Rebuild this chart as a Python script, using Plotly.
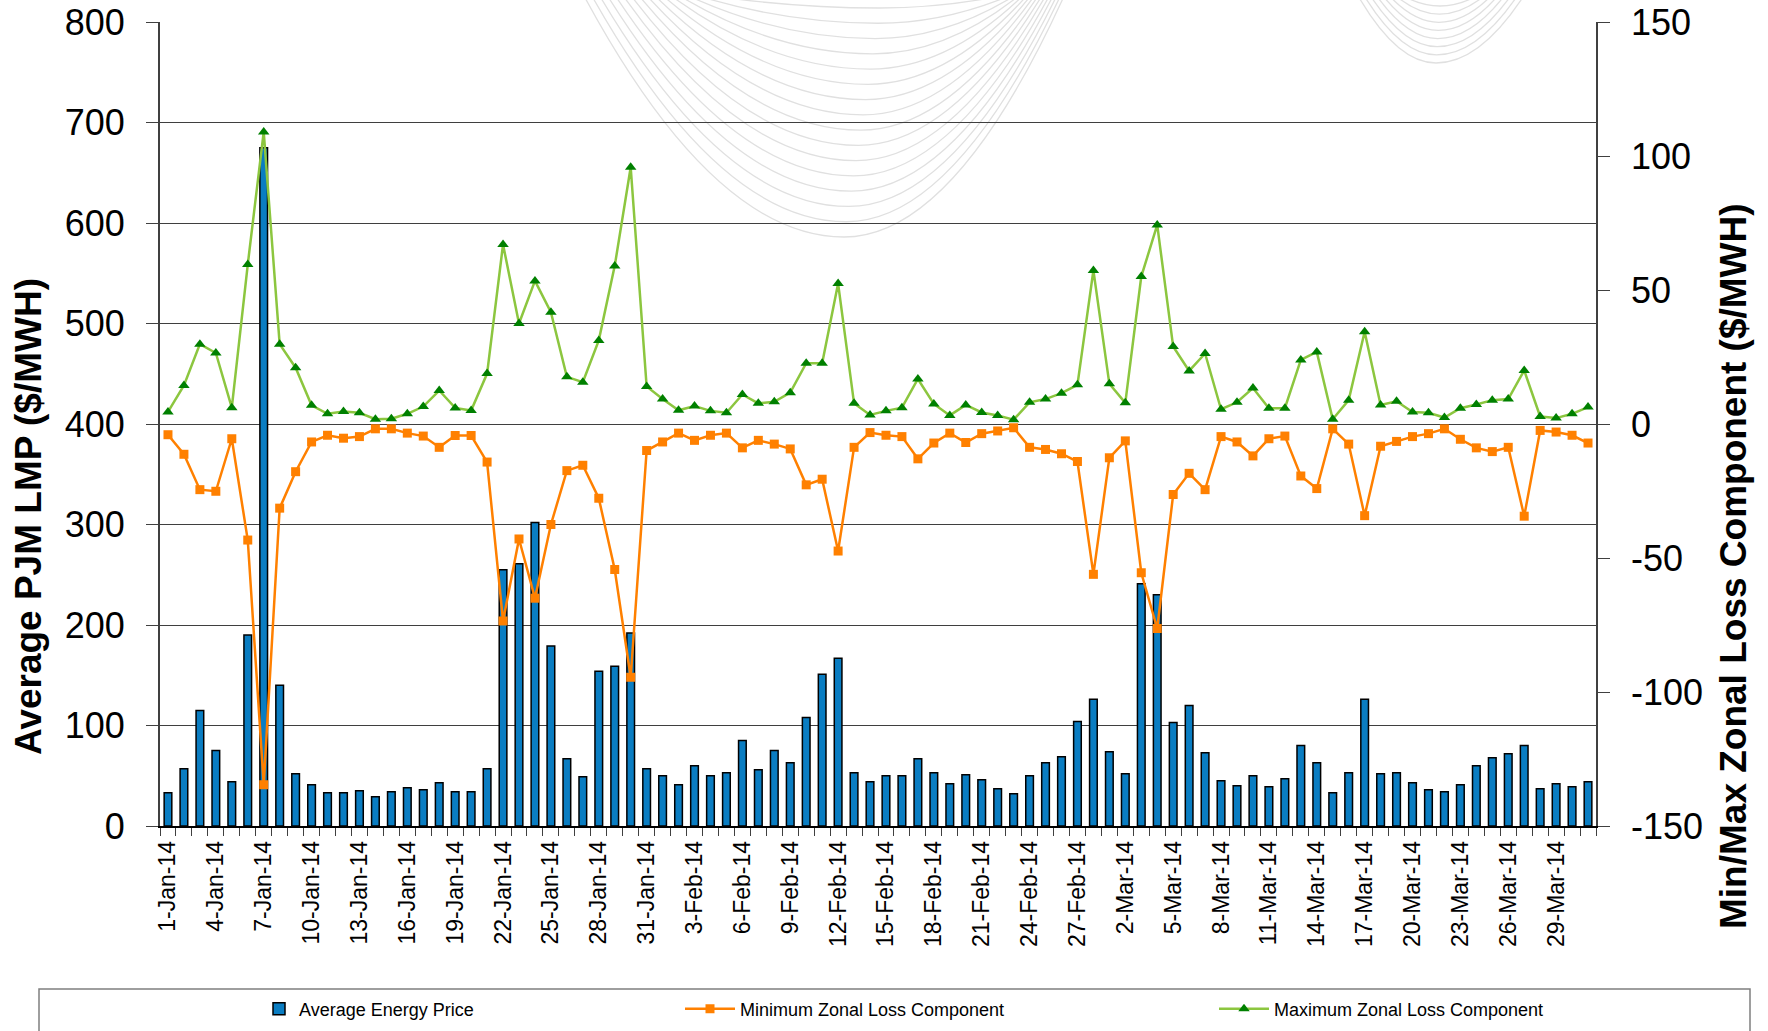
import pandas as pd
import plotly.graph_objects as go

# ---------------- data ----------------
dates = pd.date_range("2014-01-01", "2014-03-31", freq="D")

avg_price = [33, 57, 115, 75, 44, 190, 675, 140, 52, 41,
             33, 33, 35, 29, 34, 38, 36, 43, 34, 34,
             57, 255, 261, 302, 179, 67, 49, 154, 159, 192,
             57, 50, 41, 60, 50, 53, 85, 56, 75, 63,
             108, 151, 167, 53, 44, 50, 50, 67, 53, 42,
             51, 46, 37, 32, 50, 63, 69, 104, 126, 74,
             52, 241, 230, 103, 120, 73, 45, 40, 50, 39,
             47, 80, 63, 33, 53, 126, 52, 53, 43, 36,
             34, 41, 60, 68, 72, 80, 37, 42, 39, 44]

min_loss = [-4, -11.3, -24.5, -25.1, -5.5, -43.3, -134.6, -31.4, -17.8, -6.7,
            -4.2, -5.3, -4.7, -1.8, -1.8, -3.4, -4.5, -8.7, -4.3, -4.3,
            -14.2, -73.5, -42.9, -65, -37.5, -17.4, -15.4, -27.7, -54.3, -94.5,
            -9.9, -6.7, -3.4, -6.1, -4.2, -3.4, -8.9, -6.1, -7.5, -9.3,
            -22.7, -20.6, -47.4, -8.7, -3.2, -4.2, -4.7, -13, -7.1, -3.4,
            -6.9, -3.6, -2.6, -1.4, -8.7, -9.5, -11.1, -14, -56.1, -12.6,
            -6.3, -55.5, -76.3, -26.3, -18.4, -24.5, -4.7, -6.7, -11.9, -5.5,
            -4.5, -19.4, -24.1, -1.8, -7.5, -34.2, -8.3, -6.5, -4.7, -3.6,
            -1.8, -5.7, -8.9, -10.3, -8.7, -34.4, -2.4, -3, -4.2, -7.1]

max_loss = [4.5, 14.4, 29.8, 26.5, 6.1, 59.5, 109, 29.8, 21, 7,
            3.8, 4.7, 4.2, 1.8, 2, 3.8, 6.5, 12.5, 6, 5,
            18.8, 67, 37.5, 53.4, 41.7, 17.6, 15.6, 31.2, 59, 95.8,
            14, 9.3, 5.1, 6.7, 4.9, 4.2, 11, 7.7, 8.3, 11.7,
            22.7, 22.7, 52.4, 7.7, 3.4, 4.9, 6.1, 16.8, 7.5, 3.2,
            7.1, 4.3, 3.2, 1.6, 8.1, 9.3, 11.5, 14.6, 57.3, 15,
            7.9, 55, 74.3, 28.9, 19.8, 26.3, 5.5, 8.1, 13.4, 5.9,
            5.9, 23.9, 26.9, 1.8, 8.9, 34.4, 7.1, 8.5, 4.5, 4.2,
            2.4, 5.9, 7.3, 8.9, 9.3, 20, 2.8, 2.2, 3.8, 6.3]

right_tick_vals = [-150, -100, -50, 0, 50, 100, 150]
right_tick_text = ["-150", "-100", "-50", "0", "50", "100", "150"]

series_names = ["Average Energy Price", "Minimum Zonal Loss Component", "Maximum Zonal Loss Component"]
left_title = "Average PJM LMP ($/MWH)"
right_title = "Min/Max Zonal Loss Component ($/MWH)"

# ---------------- layout geometry (pixels) ----------------
W, H = 1768, 1031
L, R, T, B = 160, 1596, 22, 826
PW, PH = R - L, B - T


def px(x):
    return (x - L) / PW


def py(y):
    return (B - y) / PH


FONT = "Liberation Sans, Arial, sans-serif"

fig = go.Figure()
fig.add_trace(go.Bar(
    x=dates, y=avg_price, name=series_names[0],
    marker=dict(color="#0A7DC2", line=dict(color="#000000", width=1.5)),
    legend="legend",
))
fig.add_trace(go.Scatter(
    x=dates, y=min_loss, name=series_names[1], yaxis="y2", mode="lines+markers",
    line=dict(color="#FF8000", width=2.5),
    marker=dict(symbol="square", size=9, color="#FF8000"),
    legend="legend2",
))
fig.add_trace(go.Scatter(
    x=dates, y=max_loss, name=series_names[2], yaxis="y2", mode="lines+markers",
    line=dict(color="#8CC63F", width=2.5),
    marker=dict(symbol="triangle-up", size=10, color="#008000"),
    legend="legend3",
))

# watermark curves (decorative background)
shapes = []
n_big = 16
for k in range(n_big):
    t = k / (n_big - 1)
    lx, ly = 700 - 117 * t, -6
    bx, by = 880 - 36 * t, 8 + 229 * t
    rx, ry = 1010 + 55 * t, -6
    path = (f"M {px(lx)},{py(ly)} Q {px((lx + bx) / 2)},{py(by)} {px(bx)},{py(by)} "
            f"Q {px((bx + rx) / 2)},{py(by)} {px(rx)},{py(ry)}")
    shapes.append(dict(type="path", xref="paper", yref="paper", path=path,
                       line=dict(color="#E0E0E0", width=1.3), layer="below"))
n_small = 8
for k in range(n_small):
    t = k / (n_small - 1)
    lx, ly = 1400 - 43 * t, -6
    bx, by = 1440 - 4 * t, 6 + 57 * t
    rx, ry = 1480 + 45 * t, -6
    path = (f"M {px(lx)},{py(ly)} Q {px((lx + bx) / 2)},{py(by)} {px(bx)},{py(by)} "
            f"Q {px((bx + rx) / 2)},{py(by)} {px(rx)},{py(ry)}")
    shapes.append(dict(type="path", xref="paper", yref="paper", path=path,
                       line=dict(color="#E0E0E0", width=1.3), layer="below"))

# legend frame
shapes.append(dict(type="rect", xref="paper", yref="paper",
                   x0=px(39), x1=px(1750), y0=py(989), y1=py(1045),
                   line=dict(color="#7F7F7F", width=1.5), fillcolor="rgba(0,0,0,0)"))

legend_common = dict(orientation="h", yanchor="middle", xanchor="left",
                     font=dict(family=FONT, size=18, color="#000000"),
                     bgcolor="rgba(0,0,0,0)", borderwidth=0)

fig.update_layout(
    width=W, height=H,
    margin=dict(l=L, r=W - R, t=T, b=H - B, autoexpand=False),
    paper_bgcolor="white", plot_bgcolor="rgba(0,0,0,0)",
    font=dict(family=FONT, color="#000000"),
    bargap=0.52,
    showlegend=True,
    legend=dict(x=px(259), y=py(1009), **legend_common),
    legend2=dict(x=px(680), y=py(1009), itemwidth=50, **legend_common),
    legend3=dict(x=px(1214), y=py(1009), itemwidth=50, **legend_common),
    xaxis=dict(
        type="date",
        range=["2013-12-31 12:00", "2014-03-31 12:00"],
        tick0="2014-01-01", dtick=3 * 86400000,
        tickformat="%-d-%b-%y", tickangle=-90,
        tickfont=dict(family=FONT, size=23, color="#000000"),
        ticks="", showgrid=False,
        showline=True, linecolor="#000000", linewidth=1.5,
        ticklabelstandoff=4,
        minor=dict(dtick=86400000, tick0="2013-12-31 12:00", ticks="outside",
                   ticklen=8, tickcolor="#404040", tickwidth=1, showgrid=False),
    ),
    yaxis=dict(
        range=[0, 800], dtick=100,
        tickfont=dict(family=FONT, size=36, color="#000000"),
        ticks="outside", ticklen=12, tickcolor="#404040", tickwidth=1,
        showline=True, linecolor="#404040", linewidth=2,
        showgrid=True, gridcolor="#3F3F3F", gridwidth=1, zeroline=False,
        ticklabelstandoff=14,
    ),
    yaxis2=dict(
        range=[-150, 150], tickmode="array", tickvals=right_tick_vals, ticktext=right_tick_text,
        overlaying="y", side="right",
        tickfont=dict(family=FONT, size=36, color="#000000"),
        ticks="outside", ticklen=12, tickcolor="#404040", tickwidth=1,
        showline=True, linecolor="#404040", linewidth=1.5,
        showgrid=False, zeroline=False,
        ticklabelstandoff=14,
    ),
    shapes=shapes,
    annotations=[
        dict(text=left_title, xref="paper", yref="paper", x=px(28), y=py(517),
             textangle=-90, showarrow=False, xanchor="center", yanchor="middle",
             font=dict(family=FONT, size=37, color="#000000", weight="bold")),
        dict(text=right_title, xref="paper", yref="paper", x=px(1733), y=py(566),
             textangle=-90, showarrow=False, xanchor="center", yanchor="middle",
             font=dict(family=FONT, size=37, color="#000000", weight="bold")),
    ],
)

fig.write_html("out.html", config={"displayModeBar": False},
               post_script="document.body.style.margin='0';document.body.style.overflow='hidden';")
